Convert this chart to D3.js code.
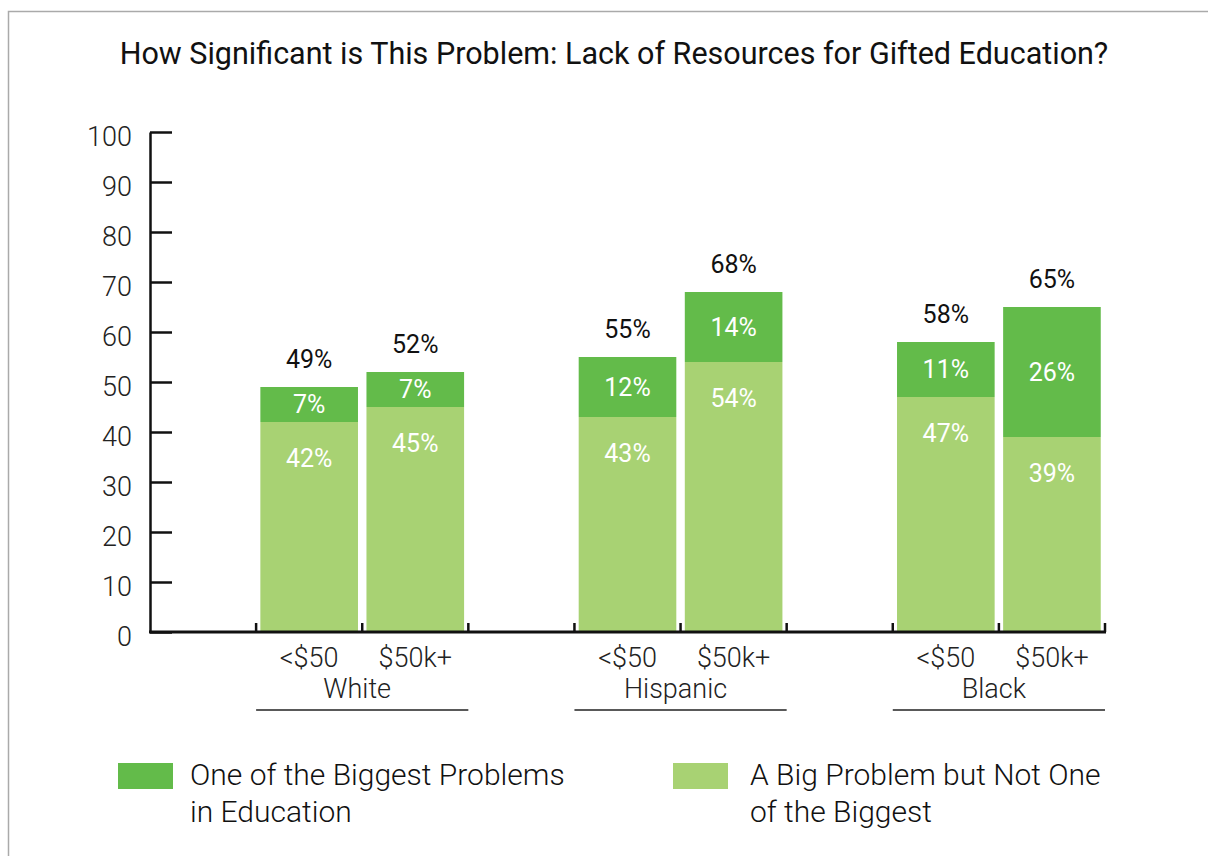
<!DOCTYPE html>
<html>
<head>
<meta charset="utf-8">
<script src="https://cdn.jsdelivr.net/npm/d3@7"></script>
<style>
  html, body { margin: 0; padding: 0; background: #fff; }
  body { width: 1208px; height: 856px; overflow: hidden; }
  text { font-family: Roboto, "Noto Sans", sans-serif; }
</style>
</head>
<body>
<div id="chart"></div>
<script>
const groups = ["White", "Hispanic", "Black"];
const incomes = ["<$50", "$50k+"];
// "A Big Problem but Not One of the Biggest" (bottom segment)
const bigValues = [[42, 45], [43, 54], [47, 39]];
// "One of the Biggest Problems in Education" (top segment)
const biggestValues = [[7, 7], [12, 14], [11, 26]];
const yTicks = [0, 10, 20, 30, 40, 50, 60, 70, 80, 90, 100];
const legendLabels = [
  ["One of the Biggest Problems", "in Education"],
  ["A Big Problem but Not One", "of the Biggest"]
];
const title = "How Significant is This Problem: Lack of Resources for Gifted Education?";

const darkGreen = "#63bb4a";
const lightGreen = "#a8d273";

const width = 1208, height = 856;
const svg = d3.select("#chart").append("svg")
  .attr("width", width).attr("height", height);

// frame (runs off the right and bottom edges)
svg.append("rect")
  .attr("x", 8.5).attr("y", 11.5)
  .attr("width", width + 20).attr("height", height + 20)
  .attr("fill", "none").attr("stroke", "#aaa").attr("stroke-width", 1.5);

svg.append("text")
  .attr("x", 614).attr("y", 64)
  .attr("text-anchor", "middle")
  .style("font-size", "30.5px").style("fill", "#111")
  .text(title);

const x0Left = 150, x0Right = 1105;
const slot = (x0Right - x0Left) / 9;
const x0 = d3.scaleBand().domain(groups)
  .range([x0Left, x0Right + slot])
  .paddingInner(1 / 3).paddingOuter(1 / 3);
const x1 = d3.scaleBand().domain(incomes)
  .range([0, x0.bandwidth()])
  .paddingInner(0.08).paddingOuter(0.04);
const y = d3.scaleLinear().domain([0, 100]).range([632, 132]);

// y axis
const yAxis = svg.append("g")
  .attr("transform", `translate(${x0Left},0)`)
  .call(d3.axisLeft(y).tickValues(yTicks).tickSizeInner(-22).tickSizeOuter(0).tickPadding(18));
yAxis.select(".domain").attr("stroke", "#111").attr("stroke-width", 2.5);
yAxis.selectAll(".tick line").attr("stroke", "#111").attr("stroke-width", 2.5);
yAxis.selectAll(".tick text")
  .attr("dy", "0.5em")
  .style("font-size", "27px").style("font-weight", 300)
  .style("font-family", "Roboto, sans-serif").attr("fill", "#222");

// bars
const rows = [];
groups.forEach((g, gi) => {
  incomes.forEach((inc, ii) => {
    rows.push({ group: g, income: inc, big: bigValues[gi][ii], biggest: biggestValues[gi][ii] });
  });
});

const bar = svg.append("g").selectAll("g").data(rows).join("g")
  .attr("transform", d => `translate(${x0(d.group) + x1(d.income)},0)`);

bar.append("rect")
  .attr("y", d => y(d.big))
  .attr("width", x1.bandwidth())
  .attr("height", d => y(0) - y(d.big))
  .attr("fill", lightGreen);

bar.append("rect")
  .attr("y", d => y(d.big + d.biggest))
  .attr("width", x1.bandwidth())
  .attr("height", d => y(d.big) - y(d.big + d.biggest))
  .attr("fill", darkGreen);

const labelStyle = sel => sel
  .attr("x", x1.bandwidth() / 2)
  .attr("text-anchor", "middle")
  .attr("dy", "0.35em")
  .style("font-size", "25px");

bar.append("text").call(labelStyle)
  .attr("y", d => y(d.big) + 36)
  .attr("fill", "#fff")
  .text(d => d.big + "%");

bar.append("text").call(labelStyle)
  .attr("y", d => y(d.big + d.biggest / 2))
  .attr("fill", "#fff")
  .text(d => d.biggest + "%");

bar.append("text").call(labelStyle)
  .attr("y", d => y(d.big + d.biggest) - 28)
  .attr("fill", "#111")
  .text(d => (d.big + d.biggest) + "%");

// x axis baseline
svg.append("line")
  .attr("x1", x0Left - 1).attr("x2", x0Right + 1)
  .attr("y1", y(0)).attr("y2", y(0))
  .attr("stroke", "#111").attr("stroke-width", 3);

// small ticks at band edges
const edges = [];
groups.forEach(g => {
  edges.push(x0(g), x0(g) + x0.bandwidth() / 2, x0(g) + x0.bandwidth());
});
svg.append("g").selectAll("line").data(edges).join("line")
  .attr("x1", d => d).attr("x2", d => d)
  .attr("y1", y(0)).attr("y2", y(0) - 9)
  .attr("stroke", "#111").attr("stroke-width", 2.5);

// income labels
bar.append("text")
  .attr("x", x1.bandwidth() / 2)
  .attr("y", 667)
  .attr("text-anchor", "middle")
  .style("font-size", "27px").style("font-weight", 300)
  .attr("fill", "#222")
  .text(d => d.income);

// group labels + underline
const grp = svg.append("g").selectAll("g").data(groups).join("g")
  .attr("transform", d => `translate(${x0(d)},0)`);
grp.append("text")
  .attr("x", x0.bandwidth() / 2 - 5)
  .attr("y", 698)
  .attr("text-anchor", "middle")
  .style("font-size", "27px").style("font-weight", 300)
  .attr("fill", "#222")
  .text(d => d);
grp.append("line")
  .attr("x1", 0).attr("x2", x0.bandwidth())
  .attr("y1", 710).attr("y2", 710)
  .attr("stroke", "#222").attr("stroke-width", 1.5);

// legend
const legendX = [118, 673];
const legendTextX = [72, 77];
const legendColors = [darkGreen, lightGreen];
const legend = svg.append("g").selectAll("g").data(legendLabels).join("g")
  .attr("transform", (d, i) => `translate(${legendX[i]},763)`);
legend.append("rect")
  .attr("width", 55).attr("height", 26)
  .attr("fill", (d, i) => legendColors[i]);
legend.append("text")
  .style("font-size", "30px").style("font-weight", 300)
  .attr("fill", "#111")
  .each(function (d, i) {
    d3.select(this).selectAll("tspan").data(d).join("tspan")
      .attr("x", legendTextX[i])
      .attr("y", (t, j) => 22 + j * 37)
      .text(t => t);
  });
</script>
</body>
</html>
